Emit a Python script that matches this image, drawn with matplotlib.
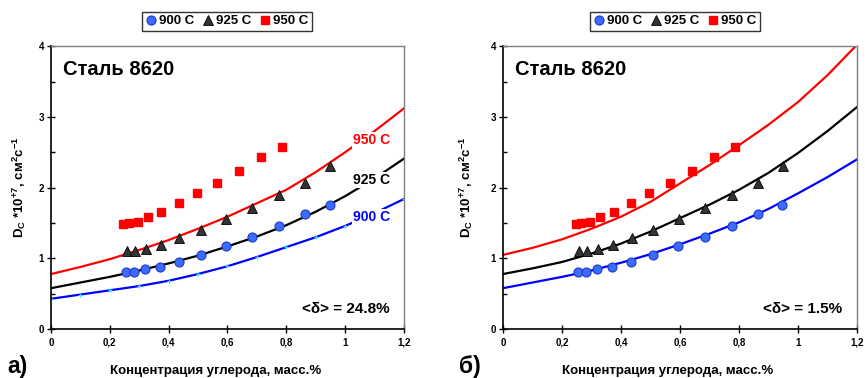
import matplotlib
matplotlib.use("Agg")
import matplotlib.pyplot as plt
from matplotlib.ticker import MultipleLocator, FuncFormatter

plt.rcParams["font.family"] = ["Liberation Sans", "DejaVu Sans"]
plt.rcParams["font.weight"] = "bold"
plt.rcParams["mathtext.fontset"] = "custom"
plt.rcParams["mathtext.rm"] = "Liberation Sans:bold"
plt.rcParams["mathtext.it"] = "Liberation Sans:bold"
plt.rcParams["mathtext.bf"] = "Liberation Sans:bold"

# experimental points (same in both panels)
x_900 = [0.255, 0.282, 0.32, 0.371, 0.435, 0.509, 0.594, 0.684, 0.775, 0.864, 0.947]
y_900 = [0.81, 0.81, 0.845, 0.88, 0.95, 1.05, 1.17, 1.31, 1.46, 1.635, 1.76]
x_925 = [0.257, 0.284, 0.322, 0.373, 0.436, 0.51, 0.595, 0.684, 0.775, 0.865, 0.948]
y_925 = [1.107, 1.107, 1.135, 1.197, 1.286, 1.40, 1.555, 1.71, 1.90, 2.07, 2.30]
x_950 = [0.246, 0.266, 0.294, 0.33, 0.375, 0.435, 0.495, 0.565, 0.639, 0.714, 0.786]
y_950 = [1.484, 1.494, 1.517, 1.579, 1.658, 1.777, 1.918, 2.07, 2.24, 2.43, 2.57]

# model curves
xc = [0, 0.1, 0.2, 0.3, 0.4, 0.5, 0.6, 0.7, 0.8, 0.9, 1.0, 1.1, 1.2]
a_900 = [0.43, 0.49, 0.55, 0.61, 0.685, 0.78, 0.89, 1.02, 1.16, 1.30, 1.46, 1.64, 1.84]
a_925 = [0.58, 0.66, 0.74, 0.83, 0.93, 1.04, 1.17, 1.31, 1.47, 1.66, 1.88, 2.13, 2.41]
a_950 = [0.78, 0.88, 0.99, 1.12, 1.26, 1.42, 1.59, 1.78, 1.97, 2.22, 2.50, 2.80, 3.12]
b_900 = [0.58, 0.66, 0.74, 0.83, 0.94, 1.06, 1.20, 1.35, 1.51, 1.70, 1.92, 2.15, 2.40]
b_925 = [0.78, 0.86, 0.95, 1.07, 1.21, 1.38, 1.57, 1.76, 1.97, 2.21, 2.49, 2.80, 3.14]
b_950 = [1.05, 1.15, 1.27, 1.42, 1.59, 1.80, 2.06, 2.32, 2.60, 2.89, 3.21, 3.59, 4.02]

series = ["900 C", "925 C", "950 C"]
deltas = ["<δ> = 24.8%", "<δ> = 1.5%"]
letters = ["а)", "б)"]

fig = plt.figure(figsize=(8.65, 3.78), dpi=100)
ax1 = fig.add_axes([0.059, 0.129, 0.408, 0.749])
ax2 = fig.add_axes([0.5815, 0.129, 0.4093, 0.749])


def style(ax):
    ax.set_xlim(0, 1.2)
    ax.set_ylim(0, 4)
    ax.xaxis.set_major_locator(MultipleLocator(0.2))
    ax.yaxis.set_major_locator(MultipleLocator(1))
    ax.yaxis.set_minor_locator(MultipleLocator(0.5))
    ax.xaxis.set_major_formatter(FuncFormatter(lambda v, p: ("%g" % round(v, 1)).replace(".", ",")))
    ax.tick_params(axis="both", which="major", direction="inout", length=6, labelsize=7, width=1)
    ax.tick_params(axis="y", which="minor", direction="in", length=3, width=1)
    ax.tick_params(axis="x", pad=3)
    ax.tick_params(axis="y", pad=2)
    for s in ["top", "right"]:
        ax.spines[s].set_color("#808080")
        ax.spines[s].set_linewidth(1)
    for s in ["left", "bottom"]:
        ax.spines[s].set_color("black")
        ax.spines[s].set_linewidth(1.2)
    ax.text(0.04, 3.67, "Сталь 8620", fontsize=14.5, fontweight="bold", va="center", ha="left")
    ax.set_xlabel("Концентрация углерода, масс.%", fontsize=9.5, fontweight="bold")
    ax.set_ylabel(r"D$_{C}$ *10$^{+7}$, см$^{2}$с$^{-1}$", fontsize=9.5, fontweight="bold")


def points(ax):
    h1, = ax.plot(x_900, y_900, "o", ms=6.5, mfc="#3d6bff", mec="#1a3acc", mew=0.8, ls="none", zorder=5)
    h2, = ax.plot(x_925, y_925, "^", ms=6.5, mfc="#333333", mec="black", mew=0.6, ls="none", zorder=5)
    h3, = ax.plot(x_950, y_950, "s", ms=5.5, mfc="#ff0000", mec="#ff0000", ls="none", zorder=5)
    return [h1, h2, h3]


# panel a
style(ax1)
ax1.plot(xc, a_950, color="#ff0000", lw=1.6)
ax1.plot(xc, a_925, color="black", lw=1.6)
ax1.plot(xc, a_900, color="#0000ff", lw=1.6, marker="+", ms=3, mec="#33ddff", mew=0.8)
h = points(ax1)
lab = dict(fontsize=10, fontweight="bold", ha="center", va="center",
           bbox=dict(facecolor="white", edgecolor="none", pad=1))
ax1.text(1.09, 2.67, "950 C", color="#ff0000", zorder=6, **lab)
ax1.text(1.09, 2.11, "925 C", color="black", zorder=6, **lab)
ax1.text(1.09, 1.58, "900 C", color="#0000ff", zorder=6, **lab)

# panel b
style(ax2)
ax2.plot(xc, b_950, color="#ff0000", lw=1.6)
ax2.plot(xc, b_925, color="black", lw=1.6)
ax2.plot(xc, b_900, color="#0000ff", lw=1.6)
points(ax2)

for ax, d, let, lx, yl, lc in [(ax1, deltas[0], letters[0], 7, -0.065, 0.4986),
                               (ax2, deltas[1], letters[1], 459, -0.08, 0.486)]:
    ax.text(1.15, 0.28, d, fontsize=11, fontweight="bold", ha="right", va="center")
    fig.text(lx / 865, 1 - 367 / 378, let, fontsize=16.5, fontweight="bold", ha="left", va="center")
    ax.xaxis.set_label_coords(0.465, -0.125)
    ax.yaxis.set_label_coords(yl, 0.5)
    leg = ax.legend(h, series, loc="lower center", bbox_to_anchor=(lc, 1.055), ncol=3,
                    frameon=True, fancybox=False, edgecolor="black", fontsize=9.5,
                    handlelength=0.8, handletextpad=0.25, columnspacing=0.6, borderpad=0.25,
                    borderaxespad=0)
    leg.get_frame().set_linewidth(1)

fig.savefig("out.png", dpi=100)
